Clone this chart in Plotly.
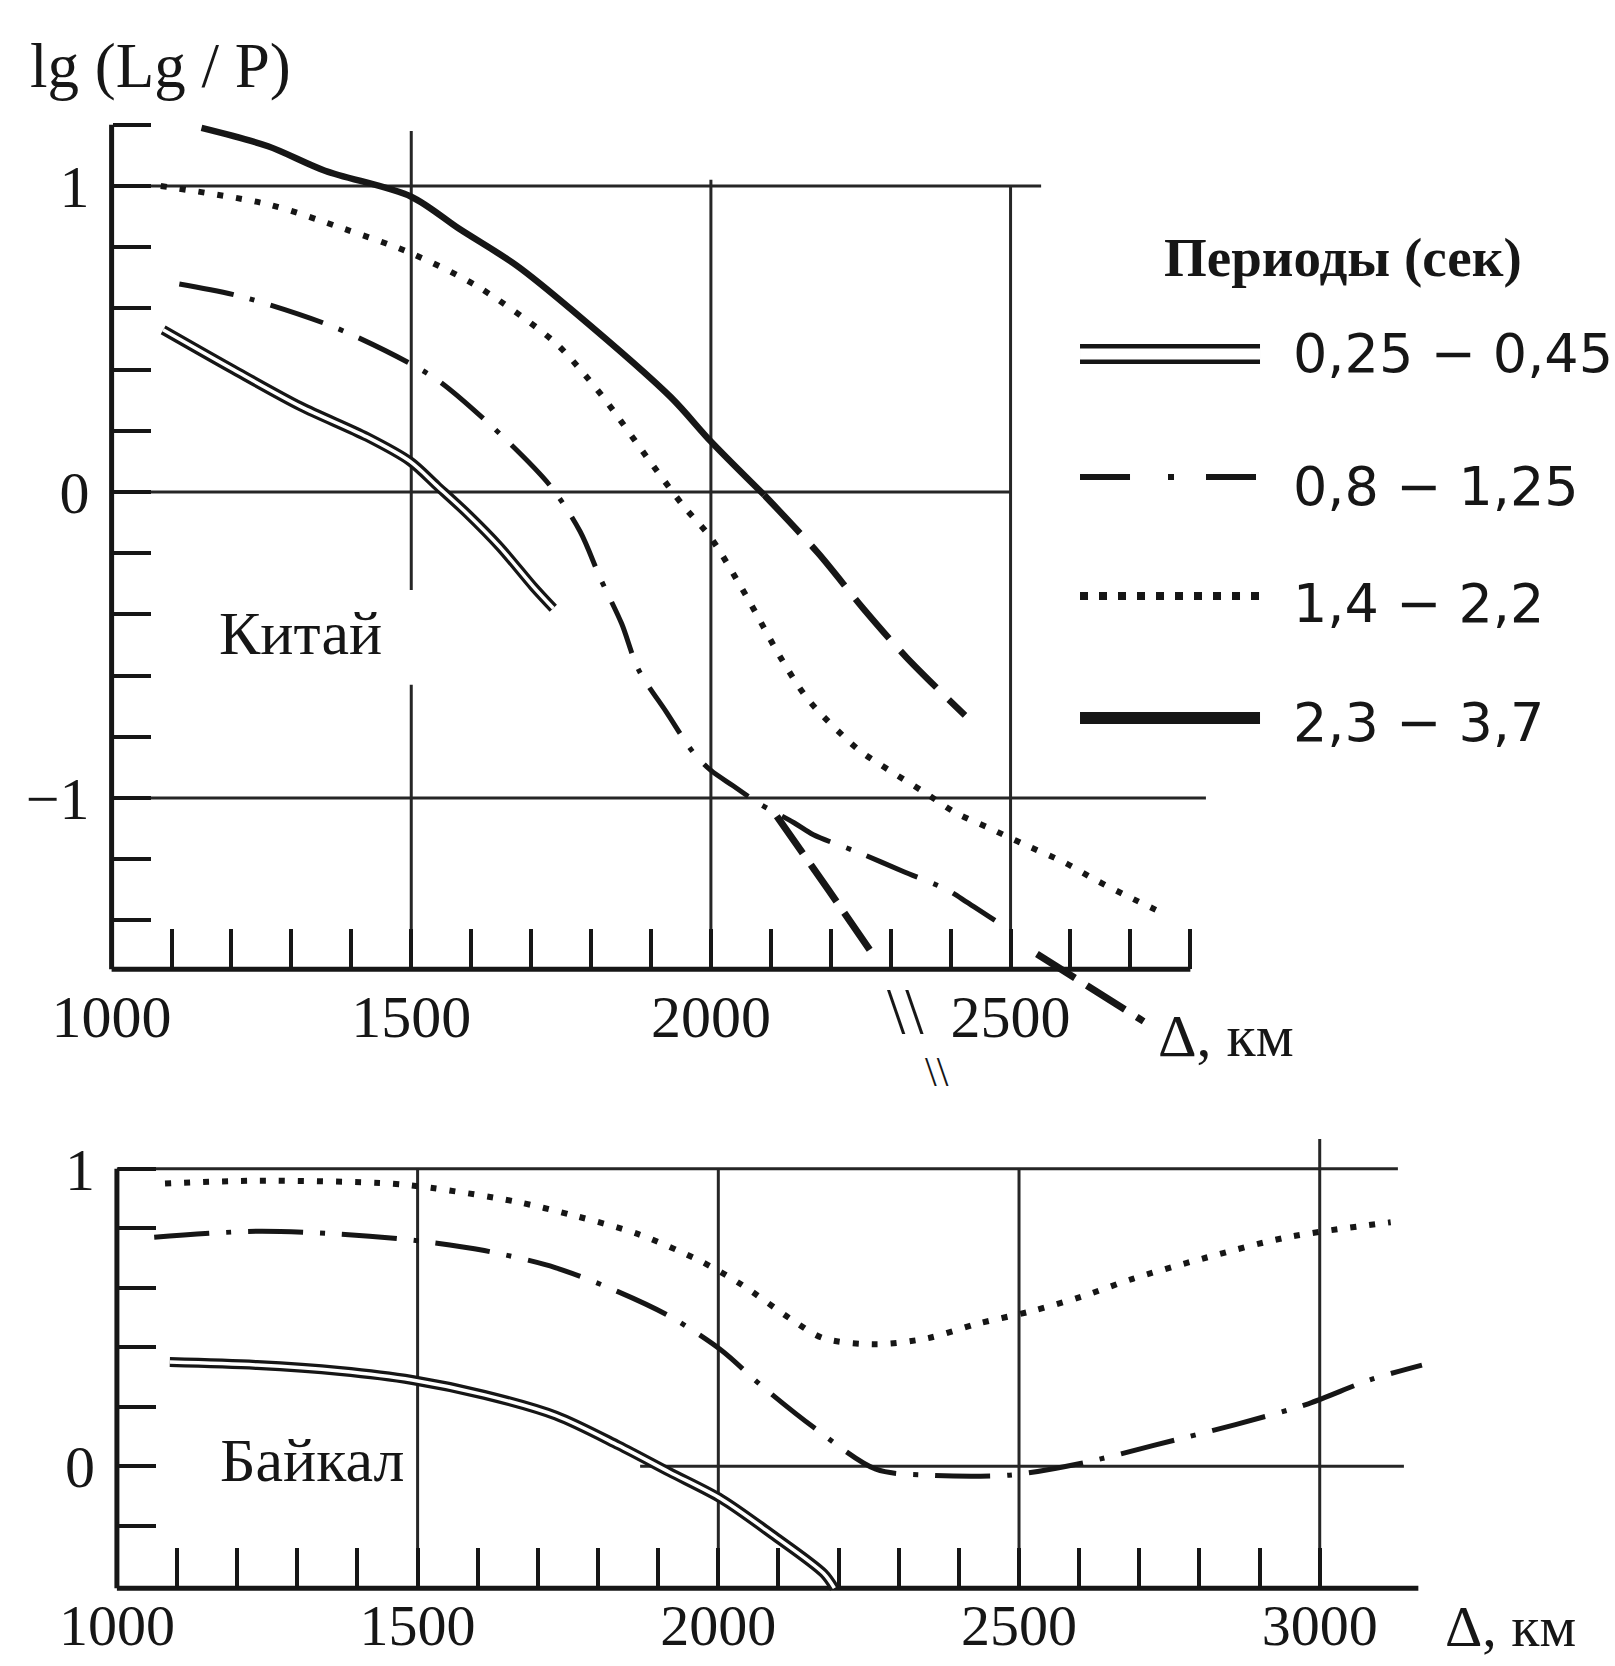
import plotly.graph_objects as go

# ---------------- data ----------------
# Panel "Китай"
KIT_DOUBLE_X = [1086, 1203, 1315, 1426, 1498, 1543, 1593, 1648, 1704, 1737]
KIT_DOUBLE_Y = [0.53, 0.40, 0.28, 0.18, 0.10, 0.02, -0.07, -0.18, -0.31, -0.38]

KIT_DASHDOT_X = [1113, 1214, 1370, 1498, 1548, 1637, 1732, 1782, 1815, 1851, 1879, 1926,
                 1970, 2000, 2037, 2082, 2138, 2171, 2249, 2321, 2394, 2427, 2474]
KIT_DASHDOT_Y = [0.68, 0.64, 0.54, 0.42, 0.36, 0.21, 0.02, -0.13, -0.28, -0.43, -0.58, -0.72,
                 -0.85, -0.91, -0.96, -1.02, -1.08, -1.12, -1.18, -1.24, -1.30, -1.34, -1.40]

KIT_BRANCH_X = [2110, 2196, 2277, None, 2544, 2722]
KIT_BRANCH_Y = [-1.06, -1.30, -1.53, None, -1.51, -1.73]

KIT_DOTTED_X = [1082, 1261, 1388, 1500, 1612, 1739, 1791, 1828, 1902, 1956, 2000, 2059,
                2119, 2163, 2245, 2298, 2355, 2410, 2466, 2521, 2589, 2644, 2694, 2758]
KIT_DOTTED_Y = [1.00, 0.94, 0.86, 0.78, 0.67, 0.49, 0.38, 0.29, 0.09, -0.05, -0.15, -0.34,
                -0.55, -0.68, -0.84, -0.91, -0.98, -1.05, -1.10, -1.15, -1.21, -1.27, -1.32, -1.38]

KIT_SOLID_X = [1150, 1261, 1356, 1500, 1580, 1676, 1771, 1933, 2000, 2089]
KIT_SOLID_Y = [1.19, 1.13, 1.05, 0.965, 0.86, 0.74, 0.59, 0.31, 0.165, -0.01]
KIT_SOLID_DASH_X = [2089, 2179, 2254, 2326, 2424]
KIT_SOLID_DASH_Y = [-0.01, -0.20, -0.38, -0.54, -0.73]

# Panel "Байкал"
BAI_DOUBLE_X = [1088, 1233, 1371, 1491, 1611, 1730, 1834, 1919, 2005, 2090, 2175, 2193]
BAI_DOUBLE_Y = [0.35, 0.34, 0.32, 0.29, 0.24, 0.17, 0.07, -0.02, -0.11, -0.23, -0.36, -0.41]

BAI_DASHDOT_X = [1062, 1233, 1371, 1491, 1611, 1730, 1834, 1919, 2005, 2072, 2159, 2262,
                 2347, 2484, 2604, 2724, 2860, 2981, 3083, 3170]
BAI_DASHDOT_Y = [0.77, 0.79, 0.78, 0.76, 0.725, 0.667, 0.586, 0.504, 0.39, 0.27, 0.13, -0.01,
                 -0.03, -0.03, 0.01, 0.07, 0.14, 0.21, 0.29, 0.34]

BAI_DOTTED_X = [1080, 1233, 1456, 1525, 1662, 1765, 1867, 1970, 2039, 2124, 2175, 2262,
                2347, 2433, 2518, 2604, 2689, 2809, 2947, 3118]
BAI_DOTTED_Y = [0.95, 0.96, 0.95, 0.935, 0.89, 0.84, 0.78, 0.69, 0.61, 0.49, 0.43, 0.41,
                0.43, 0.48, 0.52, 0.57, 0.63, 0.70, 0.77, 0.82]

# Axis ticks and labels
TOP_XTICKS = list(range(1000, 2801, 100))
TOP_XLABELS = {1000: "1000", 1500: "1500", 2000: "2000", 2500: "2500"}
TOP_YTICKS = [-1.4, -1.2, -1.0, -0.8, -0.6, -0.4, -0.2, 0.0, 0.2, 0.4, 0.6, 0.8, 1.0, 1.2]
TOP_YLABELS = {1.0: "1", 0.0: "0", -1.0: "\u22121"}
BOT_XTICKS = list(range(1000, 3001, 100))
BOT_XLABELS = {1000: "1000", 1500: "1500", 2000: "2000", 2500: "2500", 3000: "3000"}
BOT_YTICKS = [-0.2, 0.0, 0.2, 0.4, 0.6, 0.8, 1.0]
BOT_YLABELS = {1.0: "1", 0.0: "0"}

# Reference lines (grid) of each panel
TOP_HGRID_Y = [1.0, 0.0, -1.0]
TOP_HGRID_END = [2551, 2500, 2826]
TOP_VGRID_X = [1500, 1500, 2000, 2500]
TOP_VGRID_Y0 = [-1.56, -0.32, -1.56, -1.56]
TOP_VGRID_Y1 = [-0.63, 1.18, 1.02, 1.00]
TOP_AXIS_Y = -1.56
TOP_AXIS_XEND = 2800
TOP_AXIS_YTOP = 1.2

BOT_HGRID_Y = [1.0, 0.0]
BOT_HGRID_START = [1000, 1870]
BOT_HGRID_END = [3130, 3140]
BOT_VGRID_X = [1500, 2000, 2500, 3000]
BOT_VGRID_TOP = [1.0, 1.0, 1.0, 1.1]
BOT_AXIS_Y = -0.41
BOT_AXIS_XEND = 3164
BOT_AXIS_YTOP = 1.0

LEGEND_TITLE = "Периоды (сек)"
LEGEND_LABELS = ["0,25 \u2212 0,45", "0,8 \u2212 1,25", "1,4 \u2212 2,2", "2,3 \u2212 3,7"]

# ---------------- styling ----------------
INK = "#161616"
GRID = "#262626"
SERIF = "Liberation Serif"
SANS = "DejaVu Sans"
W, H = 1615, 1666

DASHDOT = "55px,17px,5px,17px"
DOTTED = "6px,13px"
LONGDASH = "52px,17px"

fig = go.Figure()


def add_line(x, y, xa, ya, width, dash="solid", color=INK, smooth=True):
    fig.add_trace(go.Scatter(
        x=x, y=y, xaxis=xa, yaxis=ya, mode="lines",
        line=dict(color=color, width=width, dash=dash,
                  shape="spline" if smooth else "linear", smoothing=0.85),
        connectgaps=False, showlegend=False, hoverinfo="skip"))


# top panel curves
add_line(KIT_DOUBLE_X, KIT_DOUBLE_Y, "x", "y", 10)
add_line(KIT_DOUBLE_X, KIT_DOUBLE_Y, "x", "y", 3.5, color="white")
add_line(KIT_DASHDOT_X, KIT_DASHDOT_Y, "x", "y", 5, DASHDOT)
add_line(KIT_BRANCH_X, KIT_BRANCH_Y, "x", "y", 7, "45px,14px")
add_line(KIT_DOTTED_X, KIT_DOTTED_Y, "x", "y", 6, DOTTED)
add_line(KIT_SOLID_X, KIT_SOLID_Y, "x", "y", 6.5)
add_line(KIT_SOLID_DASH_X, KIT_SOLID_DASH_Y, "x", "y", 6.5, LONGDASH)

# bottom panel curves
add_line(BAI_DOUBLE_X, BAI_DOUBLE_Y, "x2", "y2", 10)
add_line(BAI_DOUBLE_X, BAI_DOUBLE_Y, "x2", "y2", 3.5, color="white")
add_line(BAI_DASHDOT_X, BAI_DASHDOT_Y, "x2", "y2", 5, DASHDOT)
add_line(BAI_DOTTED_X, BAI_DOTTED_Y, "x2", "y2", 6, DOTTED)

# custom legend (long line samples), drawn in a hidden pixel-space axis
LEG_SAMPLE_X = [1080, 1260]
LEG_SAMPLE_Y = [354, 477, 596, 718]
LEG_TEXT_Y = [353, 486, 603, 722]
add_line(LEG_SAMPLE_X, [LEG_SAMPLE_Y[0]] * 2, "x3", "y3", 20, smooth=False)
add_line(LEG_SAMPLE_X, [LEG_SAMPLE_Y[0]] * 2, "x3", "y3", 11, color="white", smooth=False)
add_line(LEG_SAMPLE_X, [LEG_SAMPLE_Y[1]] * 2, "x3", "y3", 6, "50px,38px,6px,32px", smooth=False)
add_line(LEG_SAMPLE_X, [LEG_SAMPLE_Y[2]] * 2, "x3", "y3", 8, "8px,11px", smooth=False)
add_line(LEG_SAMPLE_X, [LEG_SAMPLE_Y[3]] * 2, "x3", "y3", 12, smooth=False)

# ---------------- shapes: grid & axis lines ----------------
shapes = []


def seg(xr, yr, x0, x1, y0, y1, width=3, color=GRID):
    shapes.append(dict(type="line", xref=xr, yref=yr, x0=x0, x1=x1, y0=y0, y1=y1,
                       line=dict(color=color, width=width), layer="below"))


for yv, xe in zip(TOP_HGRID_Y, TOP_HGRID_END):
    seg("x", "y", 1000, xe, yv, yv)
for xv, y0, y1 in zip(TOP_VGRID_X, TOP_VGRID_Y0, TOP_VGRID_Y1):
    seg("x", "y", xv, xv, y0, y1)
seg("x", "y", 1000, TOP_AXIS_XEND, TOP_AXIS_Y, TOP_AXIS_Y, width=5, color=INK)
seg("x", "y", 1000, 1000, TOP_AXIS_Y, TOP_AXIS_YTOP, width=5, color=INK)

for yv, xs, xe in zip(BOT_HGRID_Y, BOT_HGRID_START, BOT_HGRID_END):
    seg("x2", "y2", xs, xe, yv, yv)
for xv, yt in zip(BOT_VGRID_X, BOT_VGRID_TOP):
    seg("x2", "y2", xv, xv, BOT_AXIS_Y, yt)
seg("x2", "y2", 1000, BOT_AXIS_XEND, BOT_AXIS_Y, BOT_AXIS_Y, width=5, color=INK)
seg("x2", "y2", 1000, 1000, BOT_AXIS_Y, BOT_AXIS_YTOP, width=5, color=INK)

# ---------------- annotations ----------------
ann = []


def text(t, x, y, xr="paper", yr="paper", size=60, family=SERIF, xanchor="left",
         yanchor="middle", bold=False):
    ann.append(dict(text=("<b>%s</b>" % t) if bold else t, x=x, y=y, xref=xr, yref=yr,
                    showarrow=False, xanchor=xanchor, yanchor=yanchor,
                    font=dict(family=family, size=size, color=INK)))


text("lg (Lg / P)", 28 / W, 1 - 66 / H, size=63)
text("Китай", 1315, -0.46, "x", "y", size=62, xanchor="center")
text("Байкал", 1326, 0.02, "x2", "y2", size=62, xanchor="center")
text("\u0394, км", 1156 / W, 1 - 1036 / H, size=60)
text("\u0394, км", 1443 / W, 1 - 1626 / H, size=58)
text("\\\\", 905 / W, 1 - 1010 / H, size=66, xanchor="center")
text("\\\\", 937 / W, 1 - 1072 / H, size=42, xanchor="center")
text(LEGEND_TITLE, 1343, 257, "x3", "y3", size=55, xanchor="center", bold=True)
for lab, yv in zip(LEGEND_LABELS, LEG_TEXT_Y):
    text(lab, 1291, yv, "x3", "y3", size=54, family=SANS)


def tick_axis(vals, labels, size=60, **kw):
    d = dict(tickmode="array", tickvals=vals,
             ticktext=[labels.get(v, "") for v in vals],
             ticks="inside", tickwidth=3.5, tickcolor=INK,
             tickfont=dict(family=SERIF, size=size, color=INK),
             showgrid=False, zeroline=False, showline=False, fixedrange=True,
             automargin=False)
    d.update(kw)
    return d


fig.update_layout(
    width=W, height=H,
    margin=dict(l=0, r=0, t=0, b=0, pad=0, autoexpand=False),
    paper_bgcolor="white", plot_bgcolor="rgba(0,0,0,0)",
    showlegend=False,
    xaxis=tick_axis(TOP_XTICKS, TOP_XLABELS, domain=[0.06614, 0.75932], range=[992, 2860],
                    anchor="free", position=0.41815, ticklen=40, ticklabelstandoff=7),
    yaxis=tick_axis(TOP_YTICKS, TOP_YLABELS, domain=[0.37407, 0.93244], range=[-1.80, 1.24],
                    anchor="free", position=0.06910, ticklen=38, ticklabelstandoff=22),
    xaxis2=tick_axis(BOT_XTICKS, BOT_XLABELS, size=58, domain=[0.06941, 0.89164],
                     range=[992, 3200], anchor="free", position=0.04670, ticklen=40,
                     ticklabelstandoff=-2),
    yaxis2=tick_axis(BOT_YTICKS, BOT_YLABELS, domain=[0.03956, 0.32347], range=[-0.45, 1.14],
                     anchor="free", position=0.07238, ticklen=38, ticklabelstandoff=22),
    xaxis3=dict(domain=[0.61920, 1.0], range=[1000, 1615], visible=False, fixedrange=True,
                anchor="y3"),
    yaxis3=dict(domain=[0.53181, 0.87995], range=[780, 200], visible=False, fixedrange=True,
                anchor="x3"),
    shapes=shapes,
    annotations=ann,
)

fig.write_html("out.html")
